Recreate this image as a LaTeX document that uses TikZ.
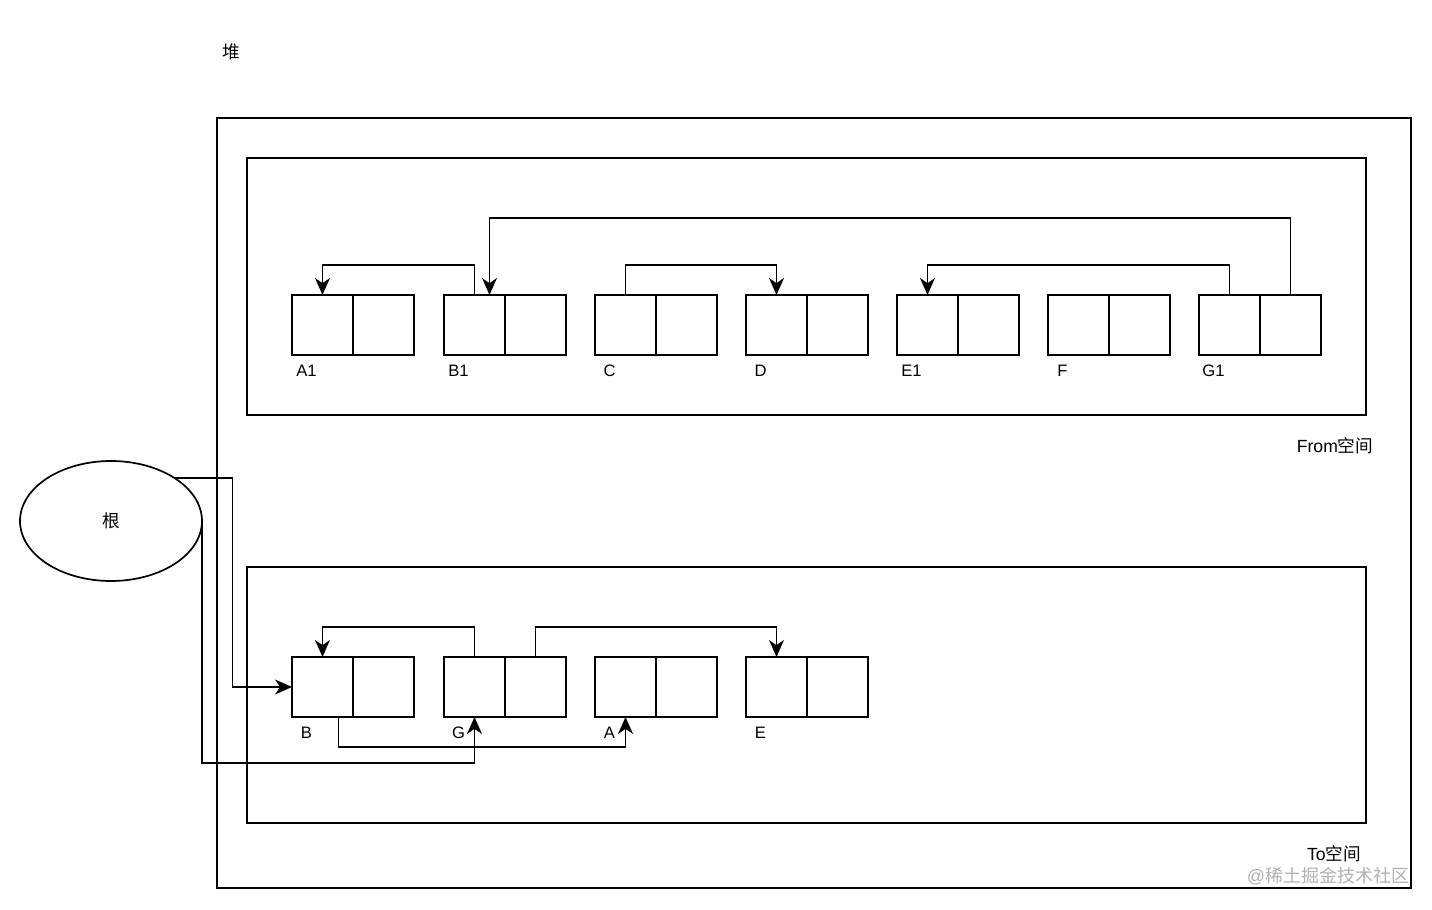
\documentclass[tikz,border=0pt]{standalone}
\usepackage{fontspec}
\setmainfont{Liberation Sans}
\newfontfamily\cjk{Noto Sans CJK SC}
\usetikzlibrary{arrows.meta,shapes.geometric}
\begin{document}
\begin{tikzpicture}[x=0.5pt,y=-0.5pt,
  every node/.style={inner sep=0pt, outer sep=0pt},
  frame/.style={draw, line width=0.85pt},
  cell/.style={draw, line width=0.85pt, minimum width=30.5pt, minimum height=30pt},
  lbl/.style={font=\fontsize{8.3}{10}\selectfont},
  arr/.style={line width=0.85pt, -{Stealth[length=8.5pt,width=7.5pt,inset=2.6pt]}},
  titletext/.style={font=\fontsize{8.8}{10.5}\selectfont}]
\useasboundingbox (0,0) rectangle (1432,910);
\fill[white] (0,0) rectangle (1432,910);

% frames
\draw[frame] (217,118) rectangle (1411,888);
\draw[frame] (247,158) rectangle (1366,415);
\draw[frame] (247,567) rectangle (1366,823);
\node[titletext] (heap) at (231,52) {\cjk 堆};
\node[titletext] (fromlbl) at (1335,446) {From{\cjk 空间}};
\node[titletext] (tolbl) at (1334,854) {To{\cjk 空间}};
\node[font=\fontsize{9}{10}\selectfont, text=black!30] (wm) at (1328,876) {@{\cjk 稀土掘金技术社区}};

% root
\node[draw, ellipse, line width=0.85pt, minimum width=91pt, minimum height=60pt, font=\fontsize{8.8}{10.5}\selectfont\cjk] (root) at (111,521) {根};

% From space objects
\foreach \n/\x/\t in {A1/292/A1, B1/444/B1, C/595/C, D/746/D, E1/897/E1, F/1048/F, G1/1199/G1}{
  \node[cell] (\n l) at (\x+30.5,325) {};
  \node[cell] (\n r) at (\x+91.5,325) {};
  \node[lbl] (\n t) at (\x+14.5,371) {\t};
}
% To space objects
\foreach \n/\x/\t in {B/292/B, G/444/G, A/595/A, E/746/E}{
  \node[cell] (\n l) at (\x+30.5,687) {};
  \node[cell] (\n r) at (\x+91.5,687) {};
  \node[lbl] (\n t) at (\x+14.5,733) {\t};
}

% From connectors
\draw[arr] (B1l.north) -- ++(0,-30) -| (A1l.north);
\draw[arr] (G1r.north) -- ++(0,-77) -| ([xshift=7.5pt]B1l.north);
\draw[arr] (Cl.north) -- ++(0,-30) -| (Dl.north);
\draw[arr] (G1l.north) -- ++(0,-30) -| (E1l.north);

% To connectors
\draw[arr] (Gl.north) -- ++(0,-30) -| (Bl.north);
\draw[arr] (Gr.north) -- ++(0,-30) -| (El.north);
\draw[arr] ([xshift=8pt]Bl.south) -- ++(0,30) -| (Al.south);

% root connectors
\draw[arr] (root.34) -- ++(29pt,0) |- (Bl.west);
\draw[arr] (root.east) -- ++(0,242) -| (Gl.south);
\end{tikzpicture}
\end{document}
